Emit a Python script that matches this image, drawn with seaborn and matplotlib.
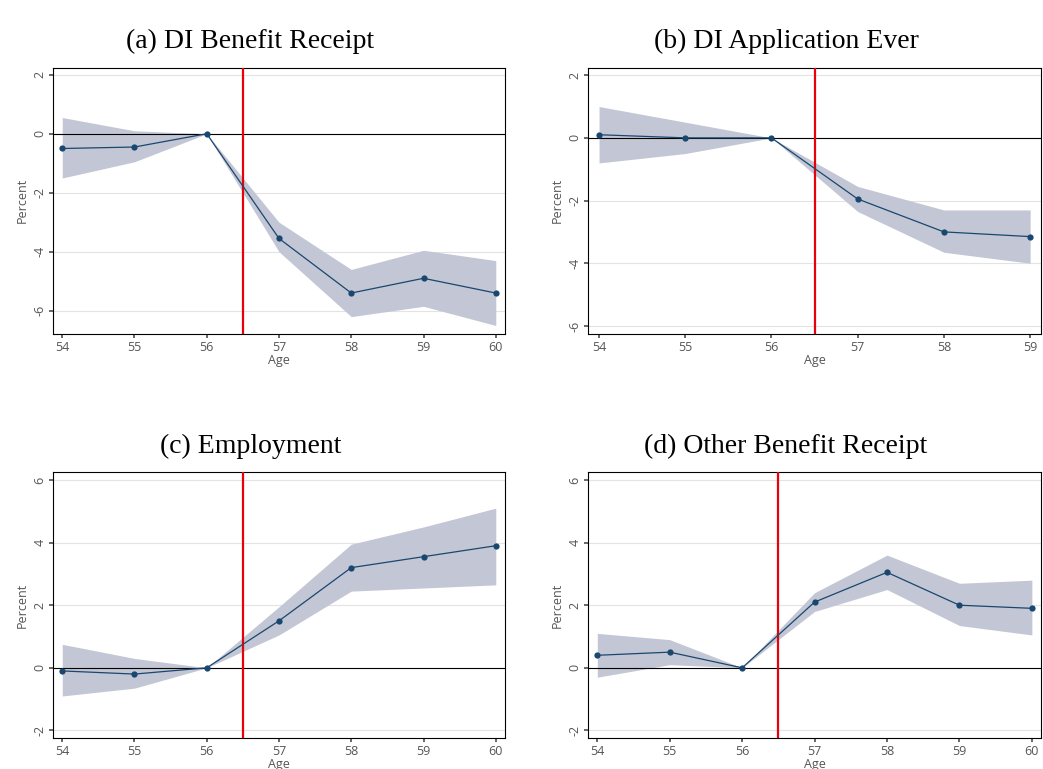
import matplotlib
matplotlib.use("Agg")
import matplotlib.pyplot as plt
import seaborn as sns
import pandas as pd

sns.set_theme(style="white")
plt.rcParams['font.family'] = ['Open Sans', 'DejaVu Sans']

ages_a = [54, 55, 56, 57, 58, 59, 60]
est_a = [-0.5, -0.45, 0, -3.55, -5.4, -4.9, -5.4]
lo_a = [-1.5, -0.95, 0, -4.0, -6.2, -5.85, -6.5]
hi_a = [0.55, 0.1, 0, -3.0, -4.6, -3.95, -4.3]

ages_b = [54, 55, 56, 57, 58, 59]
est_b = [0.1, 0.0, 0, -1.95, -3.0, -3.15]
lo_b = [-0.8, -0.5, 0, -2.35, -3.65, -4.0]
hi_b = [1.0, 0.5, 0, -1.55, -2.3, -2.3]

ages_c = [54, 55, 56, 57, 58, 59, 60]
est_c = [-0.1, -0.2, 0, 1.5, 3.2, 3.55, 3.9]
lo_c = [-0.9, -0.65, 0, 1.05, 2.45, 2.55, 2.65]
hi_c = [0.75, 0.3, 0, 1.95, 3.95, 4.5, 5.1]

ages_d = [54, 55, 56, 57, 58, 59, 60]
est_d = [0.4, 0.5, 0, 2.1, 3.05, 2.0, 1.9]
lo_d = [-0.3, 0.1, 0, 1.8, 2.5, 1.35, 1.05]
hi_d = [1.1, 0.9, 0, 2.4, 3.6, 2.7, 2.8]

titles = ["(a) DI Benefit Receipt", "(b) DI Application Ever", "(c) Employment", "(d) Other Benefit Receipt"]
panels = [
    (ages_a, est_a, lo_a, hi_a, (-6.78, 2.24), [-6, -4, -2, 0, 2], [0.051, 0.566, 0.433, 0.346]),
    (ages_b, est_b, lo_b, hi_b, (-6.25, 2.24), [-6, -4, -2, 0, 2], [0.564, 0.566, 0.434, 0.346]),
    (ages_c, est_c, lo_c, hi_c, (-2.25, 6.25), [-2, 0, 2, 4, 6], [0.051, 0.040, 0.433, 0.346]),
    (ages_d, est_d, lo_d, hi_d, (-2.25, 6.25), [-2, 0, 2, 4, 6], [0.564, 0.040, 0.434, 0.346]),
]

fig = plt.figure(figsize=(10.43, 7.69), dpi=100)
for (ages, est, lo, hi, ylim, yt, pos), title in zip(panels, titles):
    ax = fig.add_axes(pos)
    df = pd.DataFrame({"Age": ages, "est": est, "lo": lo, "hi": hi})
    ax.fill_between(df["Age"], df["lo"], df["hi"], color="#c3c6d4", lw=0, zorder=1)
    for y in yt:
        ax.axhline(y, color="#e3e3e3", lw=0.8, zorder=0)
    ax.axhline(0, color="black", lw=0.8, zorder=2)
    ax.axvline(56.5, color="#e8000b", lw=1.6, zorder=3)
    sns.lineplot(data=df, x="Age", y="est", ax=ax, color="#1a476f", lw=0.9,
                 marker="o", markersize=4.5, markeredgewidth=0, zorder=4)
    ax.set_xlim(ages[0] - 0.125, ages[-1] + 0.125)
    ax.set_ylim(*ylim)
    ax.set_xticks(ages)
    ax.set_yticks(yt)
    ax.set_yticklabels([str(v) for v in yt], rotation=90, va="center")
    ax.tick_params(labelsize=9, colors="#555555", length=3, left=True, bottom=True, pad=2)
    ax.set_xlabel("Age", fontsize=9, color="#555555", labelpad=0)
    ax.set_ylabel("Percent", fontsize=9, color="#555555", labelpad=3)
    for s in ax.spines.values():
        s.set_color("black"); s.set_linewidth(0.8)
    ax.set_title(title, fontsize=20, family="Liberation Serif", color="black", pad=14, x=0.437)

fig.savefig("out.png", dpi=100, facecolor="white")
